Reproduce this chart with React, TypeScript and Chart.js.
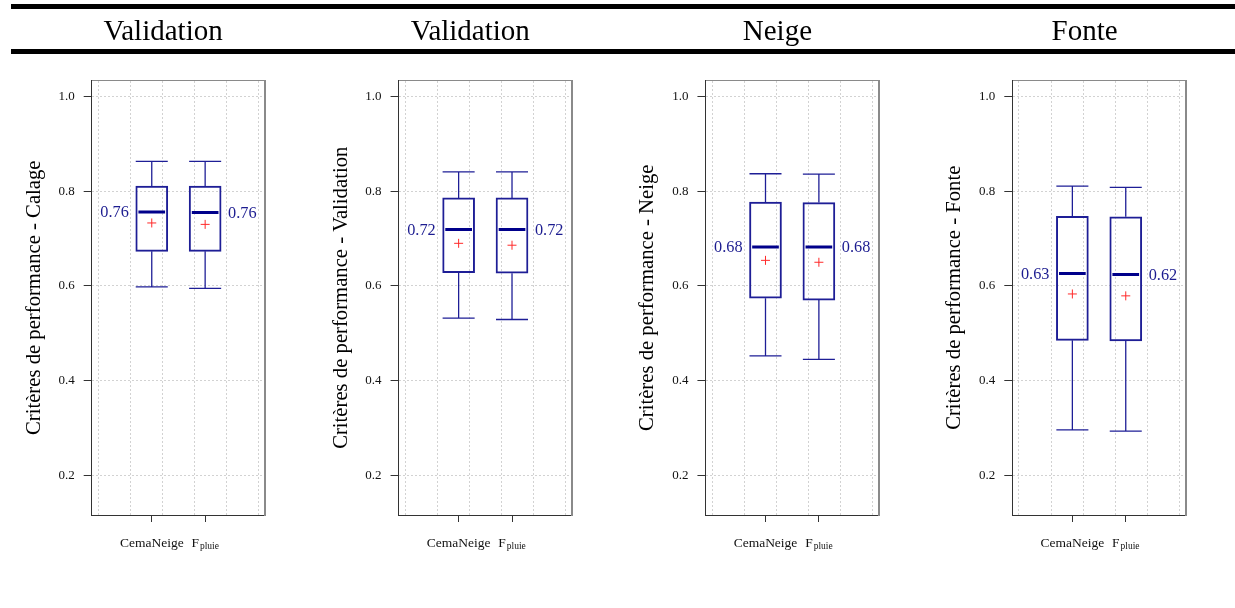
import React, { useEffect, useRef } from "react";
import { Chart, registerables } from "chart.js";

Chart.register(...registerables);

const SERIF = '"Liberation Serif", "Times New Roman", serif';

// ---------------- data ----------------
const PANEL_TITLES = ["Validation", "Validation", "Neige", "Fonte"];
const Y_TITLES = [
  "Critères de performance - Calage",
  "Critères de performance - Validation",
  "Critères de performance - Neige",
  "Critères de performance - Fonte",
];
const MODEL_NAMES = ["CemaNeige", "F"];
const MODEL_SUBSCRIPTS = ["", "pluie"];
const MODEL_POSITIONS = [1, 2];
const Y_TICKS = [0.2, 0.4, 0.6, 0.8, 1.0];
const X_GRID = [0, 0.6, 1.2, 1.8, 2.4, 3.0];

const LOWER_WHISKER = [
  [0.598, 0.595],
  [0.532, 0.529],
  [0.452, 0.445],
  [0.296, 0.293],
];
const Q1 = [
  [0.673, 0.673],
  [0.628, 0.627],
  [0.574, 0.570],
  [0.485, 0.484],
];
const MEDIAN = [
  [0.756, 0.755],
  [0.719, 0.719],
  [0.682, 0.682],
  [0.626, 0.624],
];
const MEAN = [
  [0.733, 0.730],
  [0.690, 0.686],
  [0.654, 0.650],
  [0.583, 0.579],
];
const Q3 = [
  [0.811, 0.811],
  [0.786, 0.786],
  [0.777, 0.776],
  [0.747, 0.746],
];
const UPPER_WHISKER = [
  [0.863, 0.863],
  [0.841, 0.841],
  [0.837, 0.836],
  [0.811, 0.808],
];
const MEDIAN_LABELS = [
  ["0.76", "0.76"],
  ["0.72", "0.72"],
  ["0.68", "0.68"],
  ["0.63", "0.62"],
];

// ---------------- layout / style ----------------
const Y_MIN = 0.116;
const Y_MAX = 1.034;
const X_MIN = -0.125;
const X_MAX = 3.125;
const CAP_HALF = 0.3;
const MEDIAN_HALF = 0.25;
const LABEL_OFFSET = 0.43;

const PLOT_LEFT0 = 91.7;
const PANEL_STEP = 306.87;
const TITLE_CENTER0 = 163.1;
const TITLE_STEP = 307.15;
const CANVAS_W = 300;
const CANVAS_H = 600;
const PLOT_W = 173.5;
const PLOT_TOP = 80.5;
const PLOT_BOTTOM = 515;
const Y_AXIS_W = 40;
const X_AXIS_H = 20;

const BOX_COLOR = "#1e1e96";
const MEDIAN_COLOR = "#00008b";
const MEAN_COLOR = "#ff2a2a";
const LABEL_COLOR = "#1c1c90";
const GRID_COLOR = "#d2d2d2";
const AXIS_COLOR = "#333333";
const FRAME_COLOR = "#8a8a8a";

function buildDatasets(p: number) {
  const whiskers: any[] = [];
  const medians: any[] = [];
  MODEL_POSITIONS.forEach((x, i) => {
    const hi = UPPER_WHISKER[p][i];
    const lo = LOWER_WHISKER[p][i];
    whiskers.push(
      { x, y: Q3[p][i] },
      { x, y: hi },
      { x, y: null },
      { x: x - CAP_HALF, y: hi },
      { x: x + CAP_HALF, y: hi },
      { x, y: null },
      { x, y: Q1[p][i] },
      { x, y: lo },
      { x, y: null },
      { x: x - CAP_HALF, y: lo },
      { x: x + CAP_HALF, y: lo },
      { x, y: null }
    );
    medians.push(
      { x: x - MEDIAN_HALF, y: MEDIAN[p][i] },
      { x: x + MEDIAN_HALF, y: MEDIAN[p][i] },
      { x, y: null }
    );
  });
  return [
    {
      type: "line",
      data: medians,
      borderColor: MEDIAN_COLOR,
      borderWidth: 3,
      borderCapStyle: "butt",
      pointRadius: 0,
      spanGaps: false,
      fill: false,
    },
    {
      type: "line",
      data: MODEL_POSITIONS.map((x, i) => ({ x, y: MEAN[p][i] })),
      showLine: false,
      pointStyle: "cross",
      pointRadius: 4.5,
      pointBorderColor: MEAN_COLOR,
      pointBorderWidth: 1,
      pointBackgroundColor: MEAN_COLOR,
    },
    {
      type: "line",
      data: whiskers,
      borderColor: BOX_COLOR,
      borderWidth: 1.3,
      borderCapStyle: "butt",
      pointRadius: 0,
      spanGaps: false,
      fill: false,
    },
    {
      type: "bar",
      data: MODEL_POSITIONS.map((x, i) => ({ x, y: [Q1[p][i], Q3[p][i]] })),
      backgroundColor: "rgba(255,255,255,0)",
      borderColor: BOX_COLOR,
      borderWidth: 1.3,
      borderSkipped: false,
      barThickness: 32,
      grouped: false,
    },
  ];
}

function makeTextPlugin(p: number, canvasLeft: number) {
  return {
    id: "panelText" + p,
    afterDraw(chart: any) {
      const { ctx, chartArea, scales } = chart;
      const xs = scales.x;
      const ys = scales.y;
      ctx.save();
      // panel title
      ctx.fillStyle = "#000";
      ctx.font = `29px ${SERIF}`;
      ctx.textAlign = "center";
      ctx.textBaseline = "alphabetic";
      ctx.fillText(PANEL_TITLES[p], TITLE_CENTER0 + TITLE_STEP * p - canvasLeft, 39.5);

      // y title
      ctx.save();
      ctx.translate(chartArea.left - 52, (chartArea.top + chartArea.bottom) / 2);
      ctx.rotate(-Math.PI / 2);
      ctx.font = `20.7px ${SERIF}`;
      ctx.textAlign = "center";
      ctx.textBaseline = "alphabetic";
      ctx.fillText(Y_TITLES[p], 0, 0);
      ctx.restore();

      // x labels
      const baseY = chartArea.bottom + 31.5;
      MODEL_POSITIONS.forEach((x, i) => {
        const px = xs.getPixelForValue(x);
        const main = MODEL_NAMES[i];
        const sub = MODEL_SUBSCRIPTS[i];
        ctx.fillStyle = "#111";
        ctx.font = `13.5px ${SERIF}`;
        const wMain = ctx.measureText(main).width;
        let wSub = 0;
        if (sub) {
          ctx.font = `9.5px ${SERIF}`;
          wSub = ctx.measureText(sub).width + 1;
        }
        const start = px - (wMain + wSub) / 2;
        ctx.textAlign = "left";
        ctx.textBaseline = "alphabetic";
        ctx.font = `13.5px ${SERIF}`;
        ctx.fillText(main, start, baseY);
        if (sub) {
          ctx.font = `9.5px ${SERIF}`;
          ctx.fillText(sub, start + wMain + 1, baseY + 2.5);
        }
      });

      // median labels
      ctx.fillStyle = LABEL_COLOR;
      ctx.font = `16.3px ${SERIF}`;
      ctx.textBaseline = "middle";
      ctx.textAlign = "right";
      ctx.fillText(
        MEDIAN_LABELS[p][0],
        xs.getPixelForValue(MODEL_POSITIONS[0] - LABEL_OFFSET),
        ys.getPixelForValue(MEDIAN[p][0]) + 1
      );
      ctx.textAlign = "left";
      ctx.fillText(
        MEDIAN_LABELS[p][1],
        xs.getPixelForValue(MODEL_POSITIONS[1] + LABEL_OFFSET),
        ys.getPixelForValue(MEDIAN[p][1]) + 1
      );
      ctx.restore();
    },
  };
}

function Panel({ p }: { p: number }) {
  const ref = useRef<HTMLCanvasElement | null>(null);
  const plotLeft = PLOT_LEFT0 + PANEL_STEP * p;
  const canvasLeft = Math.round(plotLeft - 85);

  useEffect(() => {
    const inner = plotLeft - canvasLeft;
    const chart = new Chart(ref.current as HTMLCanvasElement, {
      type: "bar",
      data: { datasets: buildDatasets(p) as any },
      options: {
        responsive: false,
        animation: false,
        devicePixelRatio: 1,
        layout: {
          padding: {
            left: inner - Y_AXIS_W,
            right: CANVAS_W - inner - PLOT_W,
            top: PLOT_TOP,
            bottom: CANVAS_H - PLOT_BOTTOM - X_AXIS_H,
          },
        },
        plugins: {
          legend: { display: false },
          tooltip: { enabled: false },
          title: { display: false },
        },
        scales: {
          x: {
            type: "linear",
            position: "bottom",
            offset: false,
            min: X_MIN,
            max: X_MAX,
            afterBuildTicks: (s: any) => {
              s.ticks = MODEL_POSITIONS.map((v) => ({ value: v }));
            },
            ticks: { display: false },
            grid: {
              offset: false,
              drawOnChartArea: false,
              drawTicks: true,
              tickLength: 7,
              tickColor: AXIS_COLOR,
              tickWidth: 1,
              tickBorderDash: [],
            },
            border: { display: true, color: AXIS_COLOR, width: 1 },
            afterFit: (s: any) => {
              s.height = X_AXIS_H;
            },
          },
          xg: {
            type: "linear",
            position: "top",
            offset: false,
            min: X_MIN,
            max: X_MAX,
            afterBuildTicks: (s: any) => {
              s.ticks = X_GRID.map((v) => ({ value: v }));
            },
            ticks: { display: false },
            grid: {
              offset: false,
              drawOnChartArea: true,
              drawTicks: false,
              color: GRID_COLOR,
              lineWidth: 1,
            },
            border: { display: true, color: FRAME_COLOR, width: 1, dash: [2, 2] },
            afterFit: (s: any) => {
              s.height = 0;
            },
          },
          y: {
            type: "linear",
            position: "left",
            min: Y_MIN,
            max: Y_MAX,
            afterBuildTicks: (s: any) => {
              s.ticks = Y_TICKS.map((v) => ({ value: v }));
            },
            ticks: {
              callback: (v: any) => Number(v).toFixed(1),
              font: { family: SERIF, size: 13 },
              color: "#111",
              padding: 9,
            },
            grid: {
              drawOnChartArea: true,
              drawTicks: true,
              color: GRID_COLOR,
              lineWidth: 1,
              tickLength: 8,
              tickColor: AXIS_COLOR,
              tickWidth: 1,
              tickBorderDash: [],
            },
            border: { display: true, color: AXIS_COLOR, width: 1, dash: [2, 2] },
            afterFit: (s: any) => {
              s.width = Y_AXIS_W;
            },
          },
          y2: {
            type: "linear",
            position: "right",
            min: Y_MIN,
            max: Y_MAX,
            ticks: { display: false },
            grid: { display: false },
            border: { display: true, color: FRAME_COLOR, width: 2 },
            afterFit: (s: any) => {
              s.width = 0;
            },
          },
        },
      } as any,
      plugins: [makeTextPlugin(p, canvasLeft)],
    });
    return () => chart.destroy();
  }, []);

  return (
    <canvas
      ref={ref}
      width={CANVAS_W}
      height={CANVAS_H}
      style={{ position: "absolute", left: canvasLeft, top: 0, width: CANVAS_W, height: CANVAS_H }}
    />
  );
}

export default function App() {
  return (
    <div
      style={{
        position: "fixed",
        left: 0,
        top: 0,
        width: 1235,
        height: 608,
        background: "#fff",
        overflow: "hidden",
      }}
    >
      <div style={{ position: "absolute", left: 11, top: 4, width: 1224, height: 5, background: "#000" }} />
      <div style={{ position: "absolute", left: 11, top: 49, width: 1224, height: 5, background: "#000" }} />
      {PANEL_TITLES.map((_, p) => (
        <Panel key={p} p={p} />
      ))}
    </div>
  );
}
